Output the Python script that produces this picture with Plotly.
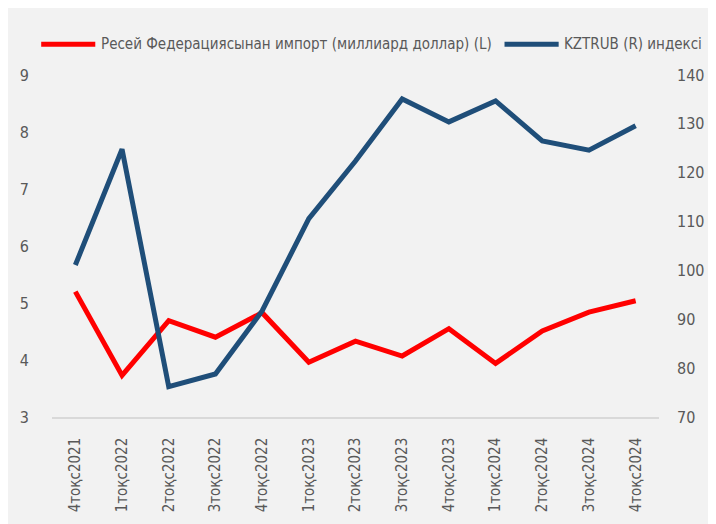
import plotly.graph_objects as go

categories = ["4тоқс2021", "1тоқс2022", "2тоқс2022", "3тоқс2022", "4тоқс2022",
              "1тоқс2023", "2тоқс2023", "3тоқс2023", "4тоқс2023",
              "1тоқс2024", "2тоқс2024", "3тоқс2024", "4тоқс2024"]
import_ru = [5.20, 3.73, 4.69, 4.40, 4.83, 3.96, 4.33, 4.07, 4.55, 3.94, 4.51, 4.84, 5.04]
kztrub = [101.1, 124.8, 76.2, 78.8, 91.7, 110.6, 122.4, 135.1, 130.4, 134.7, 126.5, 124.6, 129.6]

name_left = "Ресей Федерациясынан импорт (миллиард доллар) (L)"
name_right = "KZTRUB (R) индексі"
RED = "#ff0000"
BLUE = "#1f4e79"

FONT = "DejaVu Sans Condensed, DejaVu Sans, sans-serif"
GREY = "#595959"
FS = 15

fig = go.Figure()
fig.add_trace(go.Scatter(x=categories, y=import_ru, name=name_left, mode="lines",
                         line=dict(color=RED, width=5), yaxis="y", showlegend=False))
fig.add_trace(go.Scatter(x=categories, y=kztrub, name=name_right, mode="lines",
                         line=dict(color=BLUE, width=5), yaxis="y2", showlegend=False))

# legend drawn as line samples + labels (paper coordinates)
LEG_Y = 1.09
legend_items = [(name_left, RED, -0.0178, 0.0713, 0.0778),
                (name_right, BLUE, 0.7455, 0.8347, 0.8395)]
shapes = []
annotations = []
for name, color, x0, x1, xt in legend_items:
    shapes.append(dict(type="line", xref="paper", yref="paper", x0=x0, x1=x1,
                       y0=LEG_Y, y1=LEG_Y, line=dict(color=color, width=5)))
    annotations.append(dict(text=name, xref="paper", yref="paper", x=xt, y=LEG_Y,
                            xanchor="left", yanchor="middle", showarrow=False,
                            font=dict(size=FS, color=GREY, family=FONT)))

fig.update_layout(
    width=708, height=516,
    margin=dict(l=40, r=51, t=67, b=104),
    paper_bgcolor="#f2f2f2", plot_bgcolor="#f2f2f2",
    font=dict(family=FONT, size=FS, color=GREY),
    xaxis=dict(type="category", range=[-0.5, 12.5], showgrid=False, tickangle=-90,
               showline=True, linecolor="#d9d9d9", linewidth=1.5, ticks="",
               tickfont=dict(size=FS, color=GREY), ticklabelstandoff=13, zeroline=False),
    yaxis=dict(range=[3, 9], dtick=1, showgrid=False, zeroline=False, showline=False,
               tickfont=dict(size=16, color=GREY), ticklabelstandoff=22),
    yaxis2=dict(range=[70, 140], dtick=10, overlaying="y", side="right", showgrid=False,
                zeroline=False, showline=False, tickfont=dict(size=16, color=GREY),
                ticklabelstandoff=17),
    shapes=shapes,
    annotations=annotations,
)

fig.write_html("out.html")
